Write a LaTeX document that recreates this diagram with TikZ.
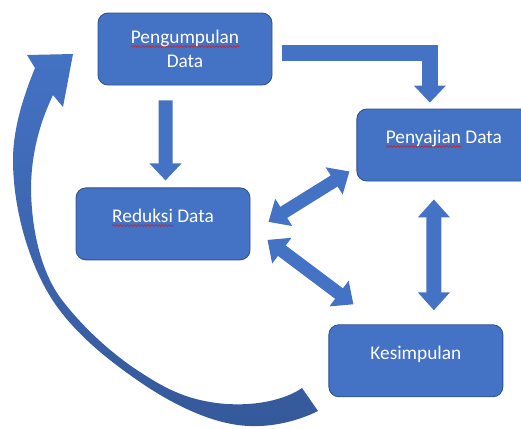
\documentclass[tikz,border=0pt]{standalone}
\usepackage{fontspec}
\setmainfont{Carlito}
\usepackage{xcolor}
\usepackage{tikz}
\usetikzlibrary{arrows.meta,positioning,decorations.pathmorphing}
\definecolor{boxblue}{HTML}{4472C4}
\definecolor{boxedge}{HTML}{2F528F}
\definecolor{swingdark}{HTML}{35599A}
\definecolor{spellred}{HTML}{C0282D}
\newsavebox{\spellbox}
\newcommand{\spellwave}[1]{\sbox{\spellbox}{#1}\tikz[overlay,baseline=0pt]\draw[spellred, line width=0.4pt, sharp corners, decorate, decoration={snake, amplitude=0.5pt, segment length=2pt}] (0,-1.6pt) -- (\wd\spellbox,-1.6pt);\usebox{\spellbox}}
\tikzset{
  stagebox/.style={draw=boxedge, fill=boxblue, rounded corners=0.2cm, line width=0.5pt, text=white, align=center, minimum width=3.48cm, minimum height=1.44cm, font=\fontsize{11}{13.5}\selectfont},
  liftedtext/.style={text depth=9pt},
  flowarrow/.style={draw=boxblue, line width=0.28cm, -{Triangle[width=0.62cm,length=0.34cm]}},
  twinarrow/.style={draw=boxblue, line width=0.26cm, {Triangle[width=0.62cm,length=0.36cm]}-{Triangle[width=0.62cm,length=0.36cm]}}
}

\begin{document}
\begin{tikzpicture}[node distance=1cm and 1cm]
  \useasboundingbox (0,0) rectangle (10.42,-8.56);
  \node[stagebox] (collect) at (3.70,-0.98) {\spellwave{Pengumpulan}\\Data};
  \node[stagebox, liftedtext, below=2.04cm of collect, xshift=-0.44cm] (reduce) {\spellwave{Reduksi} Data};
  \node[stagebox, liftedtext, below right=1.92cm and 1.68cm of collect.north east] (present) {\spellwave{Penyajian} Data};
  \node[stagebox, liftedtext, below right=1.28cm and 1.56cm of reduce.south east] (conclude) {Kesimpulan};

  \draw[flowarrow] ([xshift=-0.39cm,yshift=-0.3cm]collect.south) -- ([xshift=0.05cm,yshift=0.14cm]reduce.north);
  \draw[flowarrow, line width=0.31cm] ([xshift=0.2cm,yshift=-0.08cm]collect.east) -| ([xshift=-0.28cm,yshift=0.12cm]present.north);
  \draw[twinarrow] ([xshift=0.36cm,yshift=0.04cm]reduce.east) -- ([xshift=-0.14cm,yshift=0.2cm]present.south west);
  \draw[twinarrow] ([xshift=0.34cm,yshift=-0.32cm]reduce.east) -- ([xshift=0.5cm,yshift=0.4cm]conclude.north west);
  \draw[twinarrow, line width=0.3cm] ([xshift=-0.2cm,yshift=-0.36cm]present.south) -- ([xshift=0.36cm,yshift=0.28cm]conclude.north);

  \shade[top color=boxblue, bottom color=swingdark] (0.70,-1.36)
    .. controls (0.52,-1.80) and (0.26,-2.50) .. (0.26,-3.20)
    .. controls (0.26,-4.20) and (0.60,-5.40) .. (1.16,-6.16)
    .. controls (1.56,-6.70) and (2.10,-7.16) .. (2.80,-7.64)
    .. controls (3.50,-8.12) and (4.30,-8.50) .. (5.00,-8.52)
    .. controls (5.50,-8.54) and (6.00,-8.40) .. (6.36,-8.22)
    -- (6.04,-7.76)
    .. controls (5.64,-8.04) and (4.90,-8.16) .. (4.20,-8.04)
    .. controls (3.60,-7.94) and (3.20,-7.70) .. (2.80,-7.44)
    .. controls (2.30,-7.12) and (1.70,-6.60) .. (1.24,-6.00)
    .. controls (0.90,-5.56) and (0.64,-4.80) .. (0.62,-3.80)
    .. controls (0.62,-3.00) and (0.84,-2.36) .. (1.06,-1.90)
    -- (1.26,-2.14) -- (1.46,-1.08) -- (0.54,-1.10) -- cycle;
\end{tikzpicture}
\end{document}
